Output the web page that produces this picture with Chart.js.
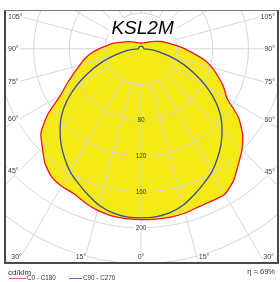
<!DOCTYPE html>
<html><head><meta charset="utf-8">
<script src="https://cdn.jsdelivr.net/npm/chart.js@4/dist/chart.umd.min.js"></script>
<style>html,body{margin:0;padding:0;background:#fff;overflow:hidden}canvas{display:block}</style>
</head><body>
<canvas id="c" width="280" height="282"></canvas>
<script>
// Gamma angles (degrees from nadir)
const gammaDeg = [0,5,10,15,20,25,30,35,40,45,50,55,60,65,70,75,80,85,90,95,100,105,110,120,130,140,150,160,170,180];
// C0 half-plane (right side), cd/klm
const c0Values   = [191,191,191,190,188,187.5,187.5,180,169,159.5,148,132.5,111,102,92,82.5,72,59,49,40,33,28,24,16.5,12,9.5,8,7,6.5,6.5];
// C180 half-plane (left side), cd/klm
const c180Values = [191,190.5,189.5,187,183,178.5,177.5,174.5,167,156,146,127,104,91,80,71,64,56,47,39,33,27,22,16,12,9.5,8,7,6.5,6.5];
// C90 / C270 half-planes, cd/klm
const c90Values  = [189,188.5,186,181,173.5,166,158.5,149,139,128,116,101,84,66,50,34,21,11,3,3,3,3,3,3,3,3,3,3,3,3];
const c270Values = [189,188.5,186,181,173.5,166,158.5,149,139,128,116,101,84,66,50,34,21,11,3,3,3,3,3,3,3,3,3,3,3,3];
const ringValues = [40,80,120,160,200,240,280,320];
const ringTickLabels = [80,120,160,200];
const sideAngleTicks = [45,60,75,90,105];
const bottomAngleTicks = [0,15,30];
const titleText = 'KSL2M';
const unitText = 'cd/klm';
const seriesNames = ['C0 - C180','C90 - C270'];
const efficiencyText = 'η = 69%';

const RED = '#f0141e', BLUE = '#3a4a9a', YELLOW = '#f6ea14', GRID = '#d6d6d6';

function polarPoints(leftVals, rightVals){
  const pts = [];
  for (let i = gammaDeg.length - 1; i >= 0; i--) {
    const g = gammaDeg[i] * Math.PI / 180;
    pts.push({x: -leftVals[i] * Math.sin(g), y: -leftVals[i] * Math.cos(g)});
  }
  for (let i = 1; i < gammaDeg.length; i++) {
    const g = gammaDeg[i] * Math.PI / 180;
    pts.push({x: rightVals[i] * Math.sin(g), y: -rightVals[i] * Math.cos(g)});
  }
  return pts;
}
const redPts = polarPoints(c180Values, c0Values);
const bluePts = polarPoints(c270Values, c90Values);

function labelBox(ctx, text, x, y, align, bg){
  const w = ctx.measureText(text).width;
  let lx = align === 'left' ? x : align === 'right' ? x - w : x - w/2;
  const h = parseFloat(ctx.font.match(/([\d.]+)px/)[1]);
  if (bg) { ctx.fillStyle = bg; ctx.fillRect(lx - 1, y - h/2 - 0.5, w + 2, h + 1); }
  ctx.fillStyle = '#3a3a3a';
  ctx.textAlign = 'left';
  ctx.textBaseline = 'middle';
  ctx.fillText(text, lx, y);
  return w;
}

const polarPlugin = {
  id: 'polarGrid',
  beforeDatasetsDraw(chart){
    const {ctx, chartArea: a, scales: {x, y}} = chart;
    const cx = x.getPixelForValue(0), cy = y.getPixelForValue(0);
    ctx.save();
    ctx.beginPath(); ctx.rect(a.left, a.top, a.right - a.left, a.bottom - a.top); ctx.clip();
    // fill of the outer (C0-C180) curve
    ctx.beginPath();
    redPts.forEach((p, i) => {
      const px = x.getPixelForValue(p.x), py = y.getPixelForValue(p.y);
      i ? ctx.lineTo(px, py) : ctx.moveTo(px, py);
    });
    ctx.closePath();
    ctx.fillStyle = YELLOW; ctx.fill();
    // rings
    ctx.strokeStyle = GRID; ctx.lineWidth = 1;
    ringValues.forEach(v => {
      const r = x.getPixelForValue(v) - cx;
      ctx.beginPath(); ctx.arc(cx, cy, r, 0, Math.PI * 2); ctx.stroke();
    });
    // radial lines
    for (let d = 0; d < 360; d += 15) {
      const g = d * Math.PI / 180;
      const R = 400;
      const r0 = x.getPixelForValue(ringValues[0]) - cx;
      ctx.beginPath();
      ctx.moveTo(cx + r0 * Math.sin(g), cy + r0 * Math.cos(g));
      ctx.lineTo(cx + R * Math.sin(g), cy + R * Math.cos(g));
      ctx.stroke();
    }
    ctx.restore();
  },
  afterDatasetsDraw(chart){
    const {ctx, chartArea: a, scales: {x, y}} = chart;
    const cx = x.getPixelForValue(0), cy = y.getPixelForValue(0);
    ctx.save();
    // ring value labels on the 0° line
    ctx.font = '6.5px "Liberation Sans", Arial, sans-serif';
    ringTickLabels.forEach(v => {
      const py = y.getPixelForValue(-v);
      labelBox(ctx, String(v), cx, py, 'center', v < c0Values[0] ? YELLOW : '#fff');
    });
    // side angle labels
    ctx.font = '7px "Liberation Sans", Arial, sans-serif';
    sideAngleTicks.forEach(d => {
      const t = d + '°';
      const w = ctx.measureText(t).width;
      const g = d * Math.PI / 180;
      // left
      const innerL = a.left + 3 + w;
      const tl = (cx - innerL) / Math.sin(g);
      labelBox(ctx, t, a.left + 3, cy + tl * Math.cos(g), 'left', '#fff');
      const innerR = a.right - 3 - w;
      const tr = (innerR - cx) / Math.sin(g);
      labelBox(ctx, t, a.right - 3, cy + tr * Math.cos(g), 'right', '#fff');
    });
    const by = a.bottom - 6;
    bottomAngleTicks.forEach(d => {
      const t = d + '°';
      const g = d * Math.PI / 180;
      const dx = (by - cy) * Math.tan(g);
      if (d === 0) { labelBox(ctx, t, cx, by, 'center', '#fff'); return; }
      labelBox(ctx, t, Math.max(cx - dx + 1, a.left + 3 + ctx.measureText(t).width), by, 'right', '#fff');
      labelBox(ctx, t, Math.min(cx + dx + 2, a.right - 3 - ctx.measureText(t).width), by, 'left', '#fff');
    });
    // title
    ctx.font = 'italic 19px "Liberation Sans", Arial, sans-serif';
    const tw = ctx.measureText(titleText).width;
    ctx.fillStyle = '#fff';
    ctx.fillRect(cx + 1.5 - tw/2 - 3, 18, tw + 6, 20);
    ctx.fillStyle = '#000';
    ctx.textAlign = 'center'; ctx.textBaseline = 'alphabetic';
    ctx.fillText(titleText, cx + 1.5, 34);
    // frame
    ctx.strokeStyle = '#4a4a4a'; ctx.lineWidth = 2;
    ctx.beginPath();
    ctx.moveTo(a.left, a.top); ctx.lineTo(a.left, a.bottom); ctx.lineTo(a.right, a.bottom); ctx.lineTo(a.right, a.top);
    ctx.stroke();
    ctx.strokeStyle = '#777'; ctx.lineWidth = 1;
    ctx.beginPath(); ctx.moveTo(a.left, a.top + 0.5); ctx.lineTo(a.right, a.top + 0.5); ctx.stroke();
    // unit, legend, efficiency
    ctx.fillStyle = '#333'; ctx.textBaseline = 'middle';
    ctx.font = '8px "Liberation Sans", Arial, sans-serif';
    ctx.textAlign = 'left'; ctx.fillText(unitText, 8, 272.5);
    ctx.textAlign = 'right'; ctx.font = '7.5px "Liberation Sans", Arial, sans-serif';
    ctx.fillText(efficiencyText, 275, 272);
    ctx.font = '6.3px "Liberation Sans", Arial, sans-serif';
    ctx.textAlign = 'left';
    ctx.lineWidth = 1;
    ctx.strokeStyle = '#f06060'; ctx.beginPath(); ctx.moveTo(9, 278.5); ctx.lineTo(26, 278.5); ctx.stroke();
    ctx.fillText(seriesNames[0], 27, 278.5);
    ctx.strokeStyle = '#6070b8'; ctx.beginPath(); ctx.moveTo(69, 278.5); ctx.lineTo(82, 278.5); ctx.stroke();
    ctx.fillText(seriesNames[1], 83, 278.5);
    ctx.restore();
  }
};

new Chart(document.getElementById('c'), {
  type: 'scatter',
  data: {
    datasets: [
      {label: seriesNames[0], data: redPts, showLine: true, borderColor: RED, borderWidth: 1.3, pointRadius: 0, tension: 0.2, fill: false},
      {label: seriesNames[1], data: bluePts, showLine: true, borderColor: BLUE, borderWidth: 1.3, pointRadius: 0, tension: 0.2, fill: false}
    ]
  },
  options: {
    responsive: false, animation: false, devicePixelRatio: 1,
    layout: {padding: {left: 5, top: 10, right: 2, bottom: 19}},
    scales: {
      x: {type: 'linear', display: false, min: -152, max: 153},
      y: {type: 'linear', display: false, min: -239.4, max: 43.4}
    },
    plugins: {legend: {display: false}, tooltip: {enabled: false}}
  },
  plugins: [polarPlugin]
});
</script>
</body></html>
